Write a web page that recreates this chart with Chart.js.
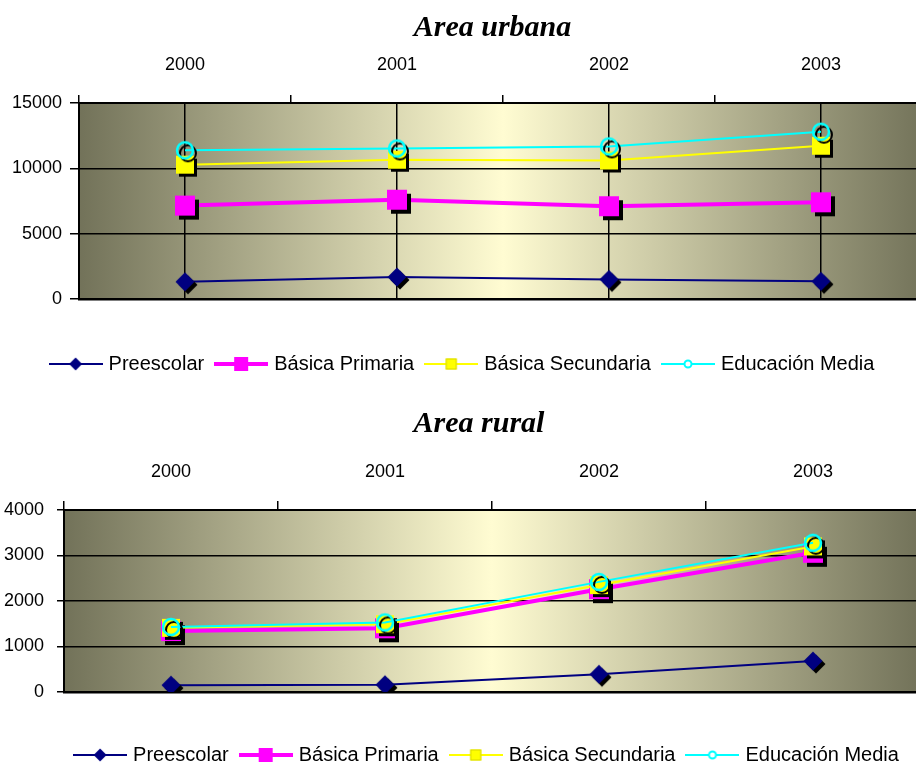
<!DOCTYPE html>
<html>
<head>
<meta charset="utf-8">
<script src="https://cdn.jsdelivr.net/npm/chart.js@4/dist/chart.umd.min.js"></script>
<style>
    html, body { margin: 0; padding: 0; background: #fff; overflow: hidden; }
    #wrap { position: relative; width: 916px; height: 765px; overflow: hidden; background: #fff; }
    #c1 { position: absolute; left: 0; top: 0; }
    #c2 { position: absolute; left: 0; top: 384px; }
</style>
</head>
<body>
<div id="wrap">
    <canvas id="c1" width="927" height="384"></canvas>
    <canvas id="c2" width="920" height="391"></canvas>
</div>
<script>
// values
const years = ['2000', '2001', '2002', '2003'];
const seriesNames = ['Preescolar', 'Básica Primaria', 'Básica Secundaria', 'Educación Media'];

const urbanPreescolar = [1320, 1680, 1500, 1350];
const urbanPrimaria = [7150, 7600, 7100, 7400];
const urbanSecundaria = [10280, 10660, 10600, 11730];
const urbanMedia = [11380, 11520, 11680, 12800];
const urbanTicks = [0, 5000, 10000, 15000];

const ruralPreescolar = [150, 160, 390, 680];
const ruralPrimaria = [1340, 1400, 2260, 3060];
const ruralSecundaria = [1410, 1490, 2350, 3200];
const ruralMedia = [1430, 1530, 2420, 3280];
const ruralTicks = [0, 1000, 2000, 3000, 4000];

const colors = ['#000080', '#ff00ff', '#ffff00', '#00ffff'];
const lineWidths = [2, 4, 2, 2];

Chart.defaults.font.family = "'Liberation Sans', Arial, sans-serif";
Chart.defaults.color = '#000';

function diamond(ctx, x, y, r, fill) {
    ctx.beginPath();
    ctx.moveTo(x, y - r);
    ctx.lineTo(x + r, y);
    ctx.lineTo(x, y + r);
    ctx.lineTo(x - r, y);
    ctx.closePath();
    ctx.fillStyle = fill;
    ctx.fill();
}

function square(ctx, x, y, s, fill, stroke) {
    ctx.fillStyle = fill;
    ctx.fillRect(x - s / 2, y - s / 2, s, s);
    if (stroke) {
        ctx.strokeStyle = stroke;
        ctx.lineWidth = 1;
        ctx.strokeRect(x - s / 2 + 0.5, y - s / 2 + 0.5, s - 1, s - 1);
    }
}

function ring(ctx, x, y, r, color, lw, fill) {
    ctx.beginPath();
    ctx.arc(x, y, r, 0, Math.PI * 2);
    if (fill) { ctx.fillStyle = fill; ctx.fill(); }
    ctx.strokeStyle = color;
    ctx.lineWidth = lw;
    ctx.stroke();
}

function makeIcon(w, h, paint) {
    const c = document.createElement('canvas');
    c.width = w;
    c.height = h;
    paint(c.getContext('2d'), w / 2, h / 2);
    return c;
}

// chart markers, with the black drop shadow baked in
const plotIcons = [
    makeIcon(32, 32, (ctx, x, y) => { diamond(ctx, x + 3, y + 3, 9.5, '#000'); diamond(ctx, x, y, 9.5, colors[0]); }),
    makeIcon(32, 32, (ctx, x, y) => { square(ctx, x + 4, y + 4, 20, '#000'); square(ctx, x, y, 20, colors[1]); }),
    makeIcon(32, 32, (ctx, x, y) => { square(ctx, x + 3, y + 3, 18, '#000'); square(ctx, x, y, 18, colors[2]); }),
    makeIcon(32, 32, (ctx, x, y) => { ring(ctx, x + 3, y + 3, 8, '#000', 2); ring(ctx, x, y, 8, colors[3], 2.5); })
];

// legend keys: line with the marker on it
function legendLine(ctx, i, h) {
    ctx.beginPath();
    ctx.moveTo(0, h);
    ctx.lineTo(54, h);
    ctx.strokeStyle = colors[i];
    ctx.lineWidth = lineWidths[i];
    ctx.stroke();
}
const legendIcons = [
    makeIcon(54, 20, (ctx, x, y) => { legendLine(ctx, 0, y); diamond(ctx, x, y, 6.5, colors[0]); }),
    makeIcon(54, 20, (ctx, x, y) => { legendLine(ctx, 1, y); square(ctx, x, y, 14, colors[1]); }),
    makeIcon(54, 20, (ctx, x, y) => { legendLine(ctx, 2, y); square(ctx, x, y, 11, colors[2], '#d8d800'); }),
    makeIcon(54, 20, (ctx, x, y) => { legendLine(ctx, 3, y); ring(ctx, x, y, 3.5, colors[3], 2, '#fff'); })
];

const plotBackground = {
    id: 'plotBackground',
    beforeDraw(chart) {
        const { ctx, chartArea: a } = chart;
        const g = ctx.createLinearGradient(a.left, 0, a.right, 0);
        g.addColorStop(0, '#727259');
        g.addColorStop(0.5, '#fffcd2');
        g.addColorStop(1, '#727259');
        ctx.save();
        ctx.fillStyle = g;
        ctx.fillRect(a.left, a.top, a.width, a.height);
        ctx.restore();
    }
};

function shiftBoxes(titleDx, legendDx) {
    return {
        id: 'shiftBoxes',
        afterLayout(chart) {
            if (chart.titleBlock) { chart.titleBlock.left += titleDx; chart.titleBlock.right += titleDx; }
            if (chart.legend) { chart.legend.left += legendDx; chart.legend.right += legendDx; }
        }
    };
}

function makeChart(id, o) {
    const series = [o.preescolar, o.primaria, o.secundaria, o.media];
    const drawOrder = [3, 2, 1, 0];
    return new Chart(document.getElementById(id), {
        type: 'line',
        data: {
            labels: years,
            datasets: series.map((d, i) => ({
                label: seriesNames[i],
                data: d,
                borderColor: colors[i],
                backgroundColor: colors[i],
                borderWidth: lineWidths[i],
                pointStyle: plotIcons[i],
                pointRadius: 6,
                pointHoverRadius: 6,
                fill: false,
                tension: 0,
                order: drawOrder[i]
            }))
        },
        options: {
            responsive: false,
            animation: false,
            events: [],
            layout: { padding: 0, autoPadding: false },
            scales: {
                x: {
                    type: 'category',
                    position: 'top',
                    offset: true,
                    grid: { offset: true, drawOnChartArea: false, drawTicks: true, tickLength: o.xTick, color: '#000', lineWidth: 1.5 },
                    border: { display: true, color: '#000', width: 2 },
                    ticks: { font: { size: 18 }, color: '#000', padding: o.xPad, maxRotation: 0, autoSkip: false },
                    afterFit(s) { s.height = o.xHeight; }
                },
                x2: {
                    type: 'category',
                    position: 'bottom',
                    offset: true,
                    grid: { offset: false, drawOnChartArea: o.dropLines, drawTicks: false, color: '#000', lineWidth: 1.5 },
                    border: { display: true, color: '#000', width: 2.5 },
                    ticks: { display: false },
                    afterFit(s) { s.height = o.x2Height; }
                },
                y: {
                    min: o.ticks[0],
                    max: o.ticks[o.ticks.length - 1],
                    afterBuildTicks(s) { s.ticks = o.ticks.map(v => ({ value: v })); },
                    grid: { color: '#000', lineWidth: 1.5, drawTicks: true, tickLength: o.yTick },
                    border: { display: true, color: '#000', width: 2 },
                    ticks: { font: { size: 18 }, color: '#000', padding: o.yPad, callback: v => String(v) },
                    afterFit(s) { s.width = o.yWidth; }
                }
            },
            plugins: {
                tooltip: { enabled: false },
                title: {
                    display: true,
                    text: o.title,
                    color: '#000',
                    font: { family: "'Liberation Serif', 'Times New Roman', serif", size: 30, weight: 'bold', style: 'italic' },
                    padding: { top: o.titleTop, bottom: o.titleBottom }
                },
                legend: {
                    position: 'bottom',
                    labels: {
                        usePointStyle: true,
                        pointStyleWidth: 46,
                        padding: 14,
                        color: '#000',
                        font: { size: 20 },
                        generateLabels: (chart) => chart.data.datasets.map((ds, i) => ({
                            text: ds.label,
                            pointStyle: legendIcons[i],
                            fillStyle: 'transparent',
                            strokeStyle: 'transparent',
                            lineWidth: 0,
                            hidden: false,
                            datasetIndex: i,
                            fontColor: '#000'
                        }))
                    }
                }
            }
        },
        plugins: [plotBackground, shiftBoxes(o.titleDx, o.legendDx)]
    });
}

makeChart('c1', {
    title: 'Area urbana',
    preescolar: urbanPreescolar, primaria: urbanPrimaria, secundaria: urbanSecundaria, media: urbanMedia,
    ticks: urbanTicks,
    titleTop: 10, titleBottom: 9,
    xHeight: 48, xTick: 8, xPad: 19,
    x2Height: 41, dropLines: true,
    yWidth: 79, yTick: 9, yPad: 8,
    titleDx: 29, legendDx: 0
});

makeChart('c2', {
    title: 'Area rural',
    preescolar: ruralPreescolar, primaria: ruralPrimaria, secundaria: ruralSecundaria, media: ruralMedia,
    ticks: ruralTicks,
    titleTop: 22, titleBottom: 18,
    xHeight: 50, xTick: 9, xPad: 18,
    x2Height: 39, dropLines: false,
    yWidth: 64, yTick: 7, yPad: 13,
    titleDx: 19, legendDx: 28
});
</script>
</body>
</html>
